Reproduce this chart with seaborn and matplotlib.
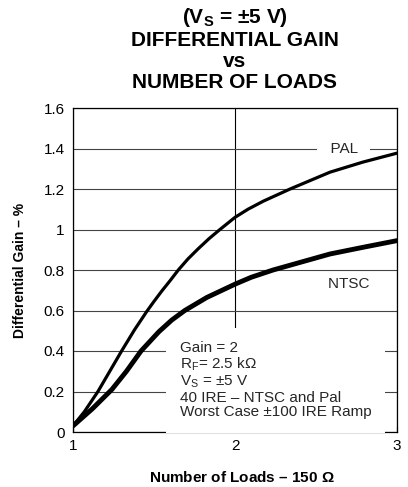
import matplotlib
matplotlib.use("Agg")
import matplotlib.pyplot as plt
import seaborn as sns
import pandas as pd

# Differential gain (%) versus number of 150-ohm loads
pal_loads = [1.0, 1.07, 1.154, 1.30, 1.38, 1.455, 1.50, 1.547, 1.60, 1.65, 1.71,
             1.773, 1.84, 1.907, 2.0, 2.08, 2.175, 2.34, 2.586, 2.79, 3.0]
pal_gain = [0.03, 0.1, 0.2, 0.4, 0.505, 0.595, 0.645, 0.695, 0.748, 0.8, 0.855,
            0.905, 0.955, 1.0, 1.06, 1.10, 1.14, 1.2, 1.283, 1.333, 1.377]

ntsc_loads = [1.0, 1.12, 1.24, 1.33, 1.42, 1.53, 1.61, 1.69, 1.825, 2.0, 2.1,
              2.235, 2.586, 2.79, 3.0]
ntsc_gain = [0.03, 0.115, 0.21, 0.30, 0.40, 0.495, 0.553, 0.60, 0.664, 0.73,
             0.764, 0.80, 0.879, 0.912, 0.945]

x_ticks = [1, 2, 3]
y_ticks = [0, 0.2, 0.4, 0.6, 0.8, 1.0, 1.2, 1.4, 1.6]
y_tick_labels = ["0", "0.2", "0.4", "0.6", "0.8", "1", "1.2", "1.4", "1.6"]

conditions = [
    "Gain = 2",
    r"R$_\mathregular{F}$= 2.5 k$\Omega$",
    r"V$_\mathregular{S}$ = ±5 V",
    "40 IRE – NTSC and Pal",
    "Worst Case ±100 IRE Ramp",
]

sns.set_style("white")
plt.rcParams["font.family"] = ["Liberation Sans", "DejaVu Sans"]
plt.rcParams["mathtext.fontset"] = "custom"
plt.rcParams["mathtext.rm"] = "Liberation Sans"
plt.rcParams["mathtext.bf"] = "Liberation Sans:bold"
plt.rcParams["mathtext.default"] = "regular"

df = pd.concat([
    pd.DataFrame({"loads": pal_loads, "gain": pal_gain, "standard": "PAL"}),
    pd.DataFrame({"loads": ntsc_loads, "gain": ntsc_gain, "standard": "NTSC"}),
])

fig = plt.figure(figsize=(4.08, 4.87), dpi=100)
ax = fig.add_axes([73 / 408, 1 - 432 / 487, (397 - 73) / 408, (432 - 108) / 487])

widths = {"PAL": 2.3, "NTSC": 3.5}
for name, sub in df.groupby("standard"):
    sns.lineplot(data=sub, x="loads", y="gain", color="black",
                 linewidth=widths[name], estimator=None, sort=False,
                 ax=ax, zorder=5, solid_capstyle="round", solid_joinstyle="round")

ax.set_xlim(1, 3)
ax.set_ylim(0, 1.6)
ax.set_xticks(x_ticks)
ax.set_xticklabels([str(t) for t in x_ticks])
ax.set_yticks(y_ticks)
ax.set_yticklabels(y_tick_labels)

ax.grid(True, axis="y", color="#444444", linewidth=0.8)
ax.grid(True, axis="x", color="black", linewidth=0.8)
ax.set_axisbelow(True)
for s in ax.spines.values():
    s.set_color("black")
    s.set_linewidth(0.9)

ax.tick_params(axis="x", direction="in", length=4, width=0.8, pad=5,
               labelsize=11, colors="black", top=False, bottom=True)
ax.tick_params(axis="y", length=0, pad=6, labelsize=11, colors="black")

ax.set_xlabel(r"Number of Loads – 150 $\Omega$", fontsize=11, fontweight="bold",
              color="black")
ax.xaxis.set_label_coords(0.52, -0.118)
ax.set_ylabel("Differential Gain – %", fontsize=10, fontweight="bold",
              labelpad=12, color="black")

ax.set_title("(V$_\\mathbf{S}$ = ±5 V)\nDIFFERENTIAL GAIN\nvs\nNUMBER OF LOADS",
             fontsize=15, fontweight="bold", linespacing=1.13, pad=14.5, color="black")

box = dict(boxstyle="square,pad=0.3", facecolor="white", edgecolor="none")
ax.text(2.67, 1.4, "  PAL  ", ha="center", va="center", fontsize=11,
        bbox=box, zorder=3)
ax.text(2.70, 0.733, "    NTSC    ", ha="center", va="center", fontsize=11,
        bbox=box, zorder=3)

ax.text(1.66, 0.255, "\n".join(conditions), ha="left", va="center", fontsize=11,
        linespacing=1.05, zorder=3,
        bbox=dict(boxstyle="square,pad=0.9", facecolor="white", edgecolor="none"))

if ax.get_legend() is not None:
    ax.get_legend().remove()

fig.savefig("out.png", dpi=100)
